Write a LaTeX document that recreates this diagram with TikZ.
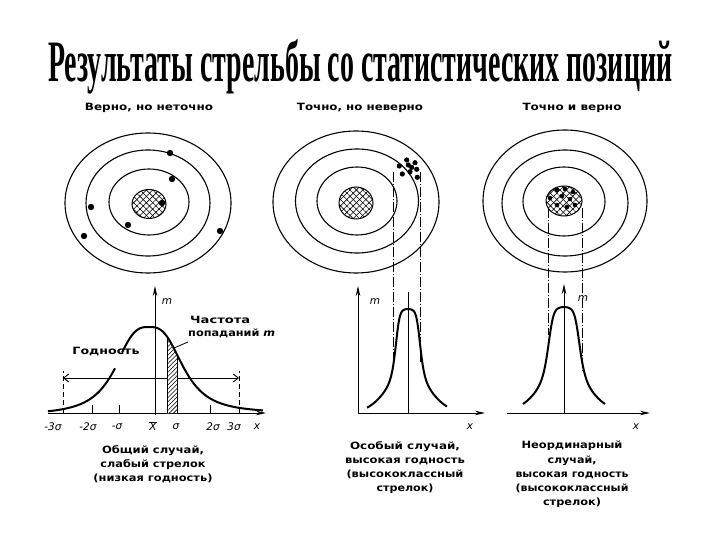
\documentclass[tikz,border=0pt]{standalone}
\usepackage{fontspec}
\usepackage{graphicx}
\setmainfont{DejaVu Sans}
\newfontfamily\titlefont{Liberation Serif}
\usetikzlibrary{arrows.meta,patterns.meta}
\newcommand{\fitw}[2]{\resizebox{#1pt}{\height}{#2}}
\begin{document}
\begin{tikzpicture}[x=1pt,y=-1pt,
  ring/.style={line width=1.1pt},
  axis/.style={line width=1pt,-{Stealth[length=10pt,width=4.5pt]}},
  curve/.style={line width=2pt},
  guide/.style={line width=0.8pt, dash pattern=on 10pt off 2pt on 1pt off 2pt},
  dashv/.style={line width=0.8pt, dash pattern=on 5pt off 3pt},
  capt/.style={font=\bfseries\fontsize{10}{14.2}\selectfont, align=center, inner sep=0pt},
  lbl/.style={font=\bfseries\fontsize{10}{11}\selectfont, inner sep=0pt},
  ax/.style={font=\itshape\fontsize{10.5}{11}\selectfont, inner sep=0pt},
  hatchA/.style={pattern={Lines[angle=45,distance=4.5pt,line width=0.6pt]}},
  hatchB/.style={pattern={Lines[angle=-45,distance=4.5pt,line width=0.6pt]}},
  ]
\useasboundingbox[fill=white] (0,0) rectangle (720,540);

% title
\node[anchor=base west, inner sep=0pt] (title) at (48,82)
  {\resizebox{624pt}{42pt}{\titlefont\bfseries Результаты стрельбы со статистических позиций}};

% subtitles
\node[lbl] (s1) at (149,108) {\fitw{128}{Верно, но неточно}};
\node[lbl] (s2) at (360,108) {\fitw{126}{Точно, но неверно}};
\node[lbl] (s3) at (572,108) {\fitw{99}{Точно и верно}};

% ---------- target 1
\draw[ring] (148,203) ellipse [x radius=83, y radius=70];
\draw[ring] (148,203) ellipse [x radius=62, y radius=53];
\draw[ring] (149,202) ellipse [x radius=40, y radius=33];
\path[hatchA] (149,204) ellipse [x radius=17, y radius=14.5];
\draw[line width=1pt, hatchB] (149,204) ellipse [x radius=17, y radius=14.5];
\foreach \p in {(170,153),(172,179),(162,203),(91,207),(128,225),(84,236),(220,231)}
  \fill \p circle [radius=3.2];

% ---------- target 2
\draw[ring] (356,202) ellipse [x radius=83, y radius=71];
\draw[ring] (357,201) ellipse [x radius=61.5, y radius=52];
\draw[ring] (357,201) ellipse [x radius=40, y radius=34];
\path[hatchA] (356,203) ellipse [x radius=17, y radius=16];
\draw[line width=1pt, hatchB] (356,203) ellipse [x radius=17, y radius=16];
\foreach \p in {(406.7,160),(415,162.7),(399.3,166),(411.7,167.3),(416.7,169.3),(402.3,174),(410,171.7),(417.3,177.3),(408.3,165)}
  \fill \p circle [radius=2.6];

% ---------- target 3
\draw[ring] (565,201) ellipse [x radius=82, y radius=71];
\draw[ring] (565,203) ellipse [x radius=63, y radius=53];
\draw[ring] (564,201.5) ellipse [x radius=41, y radius=34.5];
\path[hatchA] (564,201) ellipse [x radius=18, y radius=15];
\draw[line width=1pt, hatchB] (564,201) ellipse [x radius=18, y radius=15];
\foreach \p in {(557,190),(565,189),(573,192),(562,196),(570,199),(557,205),(567,207),(575,205),(550,198)}
  \fill \p circle [radius=2.3];

% ---------- graph 1
\draw[axis] (48,413) -- (266,413);
\draw[axis] (155,415) -- (155,286);
\foreach \t in {92,119,177,210} \draw[line width=0.8pt] (\t,413) -- (\t,405);
\draw[dashv] (63,413) -- (63,371);
\draw[dashv] (239,413) -- (239,371);
\draw[line width=0.9pt, {Straight Barb[length=5pt,width=8pt]}-{Straight Barb[length=5pt,width=8pt]}] (63,378) -- (239,378);
\fill[white] (167,413) -- plot[domain=167:177, samples=6] (\x,{413-86/(1+pow(abs(\x-149)/36,3))}) -- (177,413) -- cycle;
\fill[pattern={Lines[angle=45,distance=3pt,line width=0.6pt]}] (167,413) -- plot[domain=167:177, samples=6] (\x,{413-86/(1+pow(abs(\x-149)/36,3))}) -- (177,413) -- cycle;
\draw[line width=0.8pt] (167,413) -- (167,{413-86/(1+pow(18/36,3))});
\draw[line width=0.8pt] (177,413) -- (177,{413-86/(1+pow(28/36,3))});
\draw[curve] plot[domain=48:115, samples=40, smooth] (\x,{415-86/(1+pow(abs(\x-149)/36,3))});
\draw[curve] plot[domain=122:263, samples=70, smooth] (\x,{413-86/(1+pow(abs(\x-149)/36,3))});
\node[ax] (m1) at (167,302) {m};
\node[ax] (x1) at (257,427) {x};
\node[ax] (t1) at (53,427) {-3σ};
\node[ax] (t2) at (88,427) {-2σ};
\node[ax] (t3) at (117,427) {-σ};
\node[ax] (t4) at (153,426) {$\overline{\hbox{\itshape X}}$};
\node[ax] (t5) at (176,427) {σ};
\node[ax] (t6) at (213,427) {2σ};
\node[ax] (t7) at (234,427) {3σ};
\node[lbl] (godn) at (106,352) {\fitw{67}{Годность}};
\node[lbl, anchor=west] (freqa) at (190,320) {\fitw{60}{Частота}};
\node[lbl, anchor=west] (freqb) at (188,333) {\fitw{87}{попаданий \textit{m}}};
\coordinate (leadA) at (188,342);
\coordinate (leadB) at (174,348);
\draw[line width=0.8pt] (leadA) -- (leadB);

% ---------- graph 2
\draw[axis] (358,413) -- (485,413);
\draw[axis] (358,413) -- (358,286);
\draw[line width=0.8pt] (408,292) -- (408,413);
\draw[guide] (393,172) -- (393,362);
\draw[guide] (420,172) -- (420,363);
\draw[curve] plot[domain=367:447, samples=120, smooth]
  (\x,{413-65/(1+pow(abs(\x-408)/12.5,6))-39*exp(-1*pow((\x-408)/29,2))});
\node[ax] (m2) at (375,302) {m};
\node[ax] (x2) at (470,427) {x};

% ---------- graph 3
\draw[axis] (507,413) -- (650,413);
\draw[axis] (564,413) -- (564,284);
\draw[guide] (548,208) -- (548,335);
\draw[guide] (582,208) -- (582,372);
\draw[curve] plot[domain=523:605, samples=120, smooth]
  (\x,{413-65/(1+pow(abs(\x-564)/16,6))-41*exp(-1*pow((\x-564)/33,2))});
\node[ax] (m3) at (583,299) {m};
\node[ax] (x3) at (636,427) {x};

% ---------- captions
\node[capt] (c1) at (153,464) {\fitw{102}{Общий случай,}\\ \fitw{105}{слабый стрелок}\\ \fitw{119}{(низкая годность)}};
\node[capt] (c2) at (405,467.5) {\fitw{110}{Особый случай,}\\ \fitw{120}{высокая годность}\\ \fitw{117}{(высококлассный}\\ \fitw{57}{стрелок)}};
\node[capt] (c3) at (572,474.5) {\fitw{101}{Неординарный}\\ \fitw{49}{случай,}\\ \fitw{113}{высокая годность}\\ \fitw{113}{(высококлассный}\\ \fitw{58}{стрелок)}};
\end{tikzpicture}
\end{document}
